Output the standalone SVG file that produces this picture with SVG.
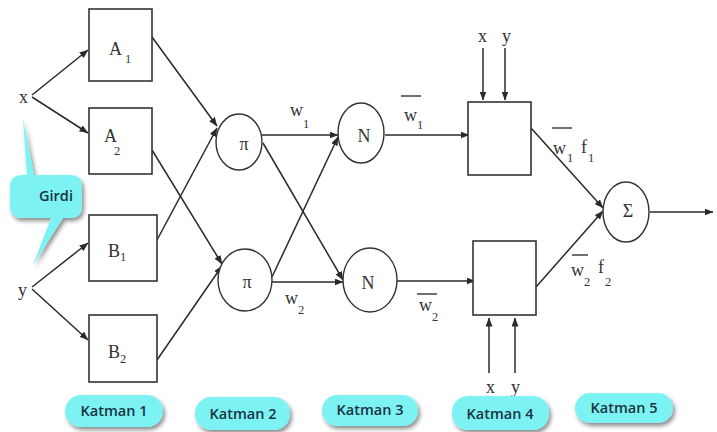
<svg xmlns="http://www.w3.org/2000/svg" width="717" height="432" viewBox="0 0 717 432">
<style>
.box{fill:#fff;stroke:#333;stroke-width:1.6}
.circ{fill:#fff;stroke:#333;stroke-width:1.4}
.ea{stroke:#2a2a2a;stroke-width:1.5;fill:none;marker-end:url(#ah)}
.t{font-family:"Liberation Serif","Times New Roman",serif;fill:#333;font-size:18px}
.s{font-family:"Liberation Serif","Times New Roman",serif;fill:#333;font-size:12.5px}
.bar{stroke:#333;stroke-width:1.4}
.pill{fill:#7df2f2;filter:url(#sh)}
.pt{font-family:"Open Sans","Liberation Sans",sans-serif;font-weight:600;font-size:14.5px;fill:#183442;text-anchor:middle}
</style>
<defs>
<marker id="ah" markerWidth="9" markerHeight="7" refX="8.5" refY="3.5" orient="auto" markerUnits="userSpaceOnUse">
<path d="M0,0 L9,3.5 L0,7 Z" fill="#2a2a2a"/>
</marker>
<filter id="sh" x="-20%" y="-30%" width="140%" height="170%">
<feDropShadow dx="2" dy="3" stdDeviation="2" flood-color="#000" flood-opacity="0.45"/>
</filter>
</defs>

<g id="connectors">
<line class="ea" x1="32" y1="95" x2="88" y2="50"/>
<line class="ea" x1="32" y1="97" x2="88" y2="133"/>
<line class="ea" x1="32" y1="287" x2="88" y2="243"/>
<line class="ea" x1="32" y1="289" x2="88" y2="340"/>
<line class="ea" x1="152" y1="37" x2="217" y2="126"/>
<line class="ea" x1="157" y1="240" x2="217" y2="128"/>
<line class="ea" x1="152" y1="150" x2="222" y2="264"/>
<line class="ea" x1="157" y1="360" x2="222" y2="266"/>
<line class="ea" x1="262" y1="135" x2="338" y2="135"/>
<line class="ea" x1="263" y1="143" x2="343" y2="280"/>
<line class="ea" x1="272" y1="277" x2="338" y2="137"/>
<line class="ea" x1="272" y1="282" x2="343" y2="282"/>
<line class="ea" x1="385" y1="135" x2="469" y2="135"/>
<line class="ea" x1="397" y1="281" x2="475" y2="281"/>
<line class="ea" x1="531" y1="128" x2="603" y2="208"/>
<line class="ea" x1="536" y1="287" x2="603" y2="211"/>
<line class="ea" x1="650" y1="212" x2="713" y2="212"/>
<line class="ea" x1="483" y1="48" x2="483" y2="100"/>
<line class="ea" x1="505" y1="48" x2="505" y2="100"/>
<line class="ea" x1="489" y1="373" x2="489" y2="318"/>
<line class="ea" x1="515" y1="373" x2="515" y2="318"/>
</g>

<g id="input-x"><text class="t" x="19" y="103">x</text></g>
<g id="input-y"><text class="t" x="18" y="296">y</text></g>

<g id="A1"><rect class="box" x="89" y="9" width="63" height="72"/><text class="t" x="109" y="55">A</text><text class="s" x="125" y="63">1</text></g>
<g id="A2"><rect class="box" x="89" y="108" width="63" height="66"/><text class="t" x="104" y="142">A</text><text class="s" x="114" y="155">2</text></g>
<g id="B1"><rect class="box" x="89" y="215" width="68" height="66"/><text class="t" x="108" y="257">B</text><text class="s" x="120" y="261">1</text></g>
<g id="B2"><rect class="box" x="89" y="315" width="68" height="67"/><text class="t" x="108" y="358">B</text><text class="s" x="120" y="363">2</text></g>

<g id="pi1"><ellipse class="circ" cx="239" cy="142" rx="23" ry="28"/><text class="t" x="244" y="150" text-anchor="middle" font-size="17">π</text></g>
<g id="pi2"><ellipse class="circ" cx="245" cy="280" rx="27" ry="31"/><text class="t" x="247" y="288" text-anchor="middle" font-size="17">π</text></g>
<g id="N1"><ellipse class="circ" cx="361" cy="133" rx="23" ry="30"/><text class="t" x="364" y="142" text-anchor="middle" font-size="14">N</text></g>
<g id="N2"><ellipse class="circ" cx="370" cy="280" rx="27" ry="32"/><text class="t" x="368" y="289" text-anchor="middle" font-size="14">N</text></g>

<g id="L4a"><rect class="box" x="468" y="102" width="63" height="73"/></g>
<g id="L4b"><rect class="box" x="473" y="241" width="63" height="74"/></g>
<g id="sigma"><ellipse class="circ" cx="626" cy="212" rx="23" ry="30"/><text class="t" x="628" y="217" text-anchor="middle" font-size="14">Σ</text></g>

<g id="labels">
<text class="t" x="290" y="116" font-size="15">w</text><text class="s" x="303" y="128">1</text>
<text class="t" x="285" y="304" font-size="15">w</text><text class="s" x="298" y="314">2</text>
<line class="bar" x1="401" y1="96" x2="421" y2="96"/>
<text class="t" x="404" y="121" font-size="15">w</text><text class="s" x="417" y="129">1</text>
<line class="bar" x1="417" y1="294" x2="437" y2="294"/>
<text class="t" x="419" y="311" font-size="15">w</text><text class="s" x="432" y="321">2</text>
<line class="bar" x1="552" y1="128" x2="572" y2="128"/>
<text class="t" x="553" y="154" font-size="15">w</text><text class="s" x="567" y="162">1</text>
<text class="t" x="581" y="153" font-size="16">f</text><text class="s" x="588" y="162">1</text>
<line class="bar" x1="572" y1="255" x2="588" y2="255"/>
<text class="t" x="571" y="276" font-size="15">w</text><text class="s" x="584" y="286">2</text>
<text class="t" x="598" y="273" font-size="16">f</text><text class="s" x="605" y="286">2</text>
<text class="t" x="478" y="42" font-size="15">x</text><text class="t" x="502" y="42" font-size="15">y</text>
<text class="t" x="486" y="393" font-size="15">x</text><text class="t" x="511" y="393" font-size="15">y</text>
</g>

<g id="girdi">
<path class="pill" d="M23,118 L34,175 L70,175 Q82,175 82,187 L82,206 Q82,218 70,218 L63,218 L33,265 L51,218 L22,218 Q10,218 10,206 L10,187 Q10,175 22,175 L27,175 Z"/>
<text class="pt" x="56" y="201" font-size="13.5" font-weight="700">Girdi</text>
</g>

<g id="katman1"><rect class="pill" x="65" y="395" width="98" height="32" rx="16"/><text class="pt" x="114" y="416">Katman 1</text></g>
<g id="katman2"><rect class="pill" x="195" y="397" width="95" height="33" rx="16"/><text class="pt" x="243" y="419">Katman 2</text></g>
<g id="katman3"><rect class="pill" x="322" y="395" width="96" height="31" rx="15.5"/><text class="pt" x="370" y="415">Katman 3</text></g>
<g id="katman4"><rect class="pill" x="452" y="396" width="97" height="34" rx="16"/><text class="pt" x="500" y="419">Katman 4</text></g>
<g id="katman5"><rect class="pill" x="575" y="393" width="98" height="30" rx="15"/><text class="pt" x="624" y="413">Katman 5</text></g>
</svg>
